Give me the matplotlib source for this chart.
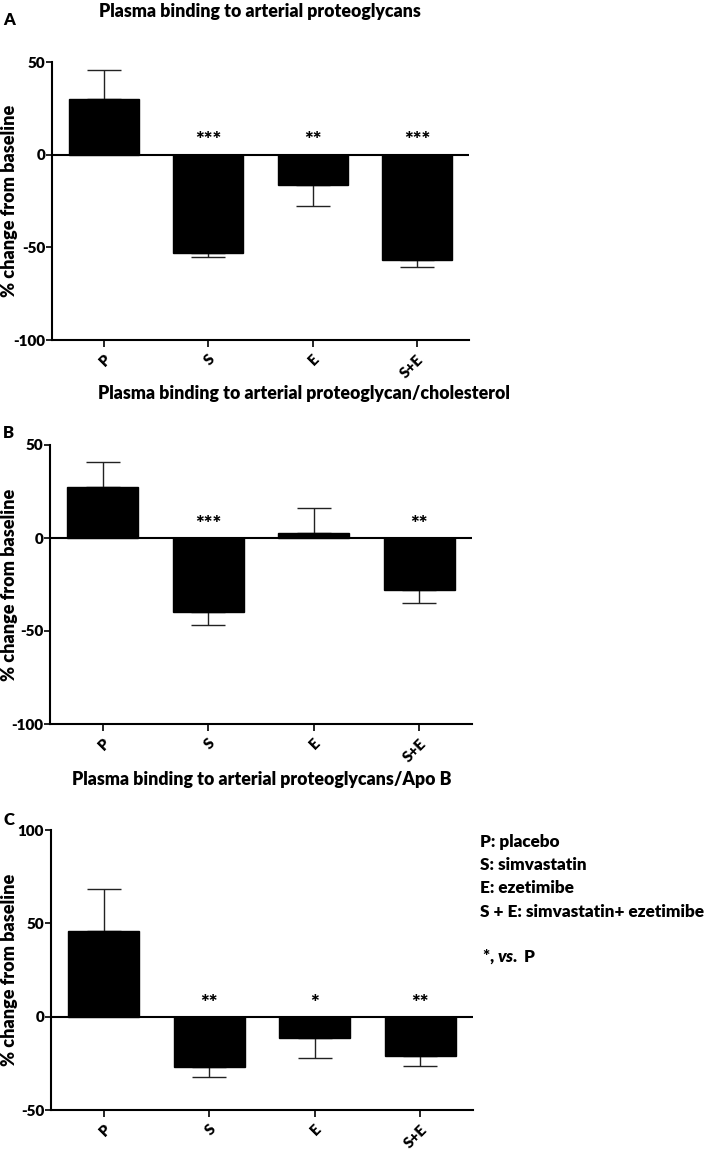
import matplotlib
matplotlib.use('Agg')
import matplotlib.pyplot as plt
import numpy as np

plt.rcParams['font.family'] = ['Lato', 'DejaVu Sans']
plt.rcParams['font.weight'] = 'heavy'
plt.rcParams['axes.unicode_minus'] = False
plt.rcParams['mathtext.fontset'] = 'custom'
plt.rcParams['mathtext.it'] = 'Lato:italic:heavy'
plt.rcParams['mathtext.rm'] = 'Lato:heavy'

groups = ['P', 'S', 'E', 'S+E']

# panel A: plasma binding to arterial proteoglycans
a_mean = [30, -53, -16.5, -57]
a_tip = [45.7, -55, -27.8, -60.8]
a_stars = ['', '***', '**', '***']

# panel B: per cholesterol
b_mean = [27.6, -39.6, 2.9, -28.1]
b_tip = [40.9, -46.8, 16, -34.9]
b_stars = ['', '***', '', '**']

# panel C: per Apo B
c_mean = [45.9, -27.1, -11.3, -21.3]
c_tip = [68.6, -32.5, -22.4, -26.3]
c_stars = ['', '**', '*', '**']

titles = ['Plasma binding to arterial proteoglycans',
          'Plasma binding to arterial proteoglycan/cholesterol',
          'Plasma binding to arterial proteoglycans/Apo B']
letters = ['A', 'B', 'C']
legend_lines = ['P: placebo', 'S: simvastatin', 'E: ezetimibe',
                'S + E: simvastatin+ ezetimibe']

W, H = 709, 1149
fig = plt.figure(figsize=(W / 100, H / 100), dpi=100)

def px(x0, y0, x1, y1):
    return [x0 / W, 1 - y1 / H, (x1 - x0) / W, (y1 - y0) / H]

boxes = [px(52, 62, 469, 340), px(50, 445, 472, 724), px(51, 830, 473, 1110)]
ylims = [(-100, 50), (-100, 50), (-50, 100)]
yticks = [[-100, -50, 0, 50], [-100, -50, 0, 50], [-50, 0, 50, 100]]
title_pos = [(260, 11), (304, 393), (262, 779)]
letter_pos = [(3, 20), (3, 433), (3, 820)]
data = [(a_mean, a_tip, a_stars), (b_mean, b_tip, b_stars), (c_mean, c_tip, c_stars)]

x = np.arange(len(groups))
for i in range(3):
    mean, tip, stars = data[i]
    ax = fig.add_axes(boxes[i])
    mean = np.array(mean)
    tip = np.array(tip)
    lo = np.where(tip < mean, mean - tip, 0)
    hi = np.where(tip > mean, tip - mean, 0)
    ax.errorbar(x, mean, yerr=[lo, hi], fmt='none', ecolor='#222222',
                elinewidth=1, capsize=12, capthick=1, zorder=1)
    ax.bar(x, mean, width=0.67, color='black', edgecolor='black', zorder=2)
    ax.axhline(0, color='black', lw=1.5, zorder=3)
    for xi, s in zip(x, stars):
        if s:
            ax.annotate(s, (xi, 0), xytext=(0, 3), textcoords='offset points',
                        ha='center', va='bottom', fontsize=15)
    ax.set_xlim(-0.5, 3.5)
    ax.set_ylim(*ylims[i])
    ax.set_yticks(yticks[i])
    ax.set_xticks(x)
    ax.set_xticklabels(groups, rotation=45, ha='right', rotation_mode='anchor',
                       fontsize=11)
    ax.tick_params(axis='y', labelsize=11, length=4, width=1.2, pad=1)
    ax.tick_params(axis='x', length=5, width=1.2, pad=4)
    for s in ['top', 'right']:
        ax.spines[s].set_visible(False)
    for s in ['left', 'bottom']:
        ax.spines[s].set_linewidth(1.5)
    fig.text(10 / W, (boxes[i][1] + boxes[i][3] / 2), '% change from baseline',
             rotation=90, ha='center', va='center', fontsize=13)
    fig.text(title_pos[i][0] / W, 1 - title_pos[i][1] / H, titles[i],
             ha='center', va='center', fontsize=12.8)
    fig.text(letter_pos[i][0] / W, 1 - letter_pos[i][1] / H, letters[i],
             ha='left', va='center', fontsize=12)

ys = [842, 865, 888, 912]
for t, y in zip(legend_lines, ys):
    fig.text(480 / W, 1 - y / H, t, ha='left', va='center', fontsize=12.3)
fig.text(482 / W, 1 - 957 / H, r'*, $\it{vs.}$ P', ha='left', va='center',
         fontsize=12.3)

fig.savefig('out.png', dpi=100)
